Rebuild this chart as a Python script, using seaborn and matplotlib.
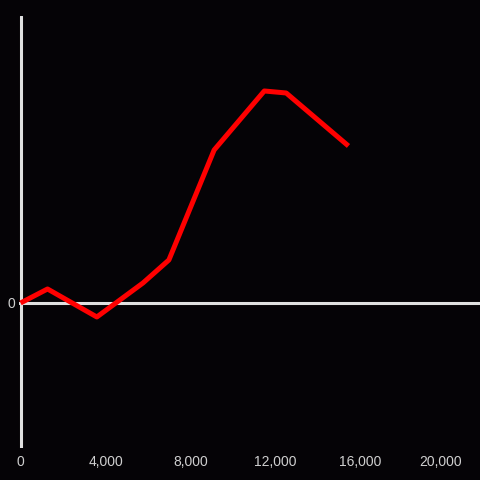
import matplotlib
matplotlib.use("Agg")
import matplotlib.pyplot as plt
import matplotlib.transforms as mtransforms
import seaborn as sns
import pandas as pd

# values
x_vals = [0, 1270, 3590, 5760, 6980, 9110, 11470, 12500, 15430]
y_vals = [0, 14, -14, 20, 43, 153, 212, 210, 157]
x_ticks = [0, 4000, 8000, 12000, 16000, 20000]
x_tick_labels = ["0", "4,000", "8,000", "12,000", "16,000", "20,000"]

BG = "#050306"
AXIS = "#e0e0e0"
LABEL = "#cfcfcf"

sns.set_style("dark")
plt.rcParams['font.family'] = ['Liberation Sans', 'DejaVu Sans']

df = pd.DataFrame({"x": x_vals, "y": y_vals})

fig = plt.figure(figsize=(4.8, 4.8), dpi=100, facecolor=BG)
ax = fig.add_axes([0.0406, 0.0667, 0.9594, 0.9])
ax.set_facecolor(BG)

sns.lineplot(data=df, x="x", y="y", color="#ff0000", linewidth=3.6,
             sort=False, ax=ax, solid_capstyle="butt", zorder=3)

ax.axhline(0, color=AXIS, linewidth=2.2, zorder=2)
ax.axvline(0, color=AXIS, linewidth=2.2, zorder=2)

ax.set_xlim(-50, 21620)
ax.set_ylim(-145, 287)

for s in ax.spines.values():
    s.set_visible(False)
ax.grid(False)

ax.set_xticks(x_ticks)
ax.set_xticklabels(x_tick_labels)
ax.set_yticks([0])
ax.set_yticklabels(["0"])
ax.tick_params(axis="both", length=0, colors=LABEL, labelsize=10)
ax.tick_params(axis="x", pad=5)
ax.tick_params(axis="y", pad=3)
ax.set_xlabel("")
ax.set_ylabel("")

# last label sits a bit inward in the reference
last = ax.get_xticklabels()[-1]
last.set_transform(last.get_transform() +
                   mtransforms.ScaledTranslation(-5 / 100, 0, fig.dpi_scale_trans))

fig.savefig("out.png", dpi=100, facecolor=BG)
